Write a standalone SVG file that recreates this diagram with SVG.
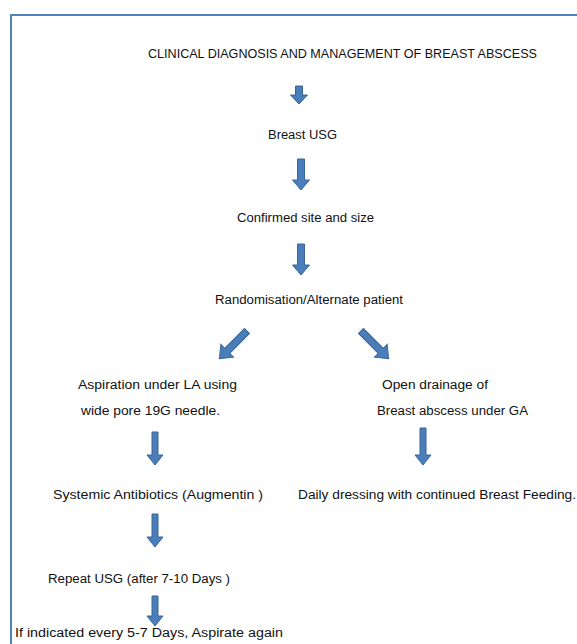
<svg xmlns="http://www.w3.org/2000/svg" xmlns:xlink="http://www.w3.org/1999/xlink" width="577" height="644" viewBox="0 0 577 644">
<style>
.t{font-family:"Liberation Sans",Arial,sans-serif;font-size:12px;fill:#111;}
.a{fill:#4a7ebb;stroke:#3a6596;stroke-width:1;stroke-linejoin:miter;}
</style>
<defs>
<linearGradient id="g" x1="0" y1="0" x2="1" y2="0">
<stop offset="0" stop-color="#3d6fae"/><stop offset="0.5" stop-color="#5a8fcf"/><stop offset="1" stop-color="#3d6fae"/>
</linearGradient>
<path id="diag" d="M-3.5,0 H3.5 V28 H9 L0,39 L-9,28 H-3.5 Z"/>
</defs>
<rect width="577" height="644" fill="#fff"/>
<rect x="11" y="15" width="620" height="700" fill="none" stroke="#4f81bd" stroke-width="2"/>
<g id="n-title"><text class="t" x="148" y="58" textLength="389" lengthAdjust="spacingAndGlyphs">CLINICAL DIAGNOSIS AND MANAGEMENT OF BREAST ABSCESS</text></g>
<g id="n-usg"><text class="t" x="268" y="139" textLength="69" lengthAdjust="spacingAndGlyphs">Breast USG</text></g>
<g id="n-confirmed"><text class="t" x="237" y="222" textLength="137" lengthAdjust="spacingAndGlyphs">Confirmed site and size</text></g>
<g id="n-random"><text class="t" x="215" y="304" textLength="188" lengthAdjust="spacingAndGlyphs">Randomisation/Alternate patient</text></g>
<g id="n-aspiration"><text class="t" x="78" y="389" textLength="159" lengthAdjust="spacingAndGlyphs">Aspiration under LA using</text><text class="t" x="81" y="415" textLength="139" lengthAdjust="spacingAndGlyphs">wide pore 19G needle.</text></g>
<g id="n-open"><text class="t" x="382" y="389" textLength="106" lengthAdjust="spacingAndGlyphs">Open drainage of</text><text class="t" x="377" y="415" textLength="151" lengthAdjust="spacingAndGlyphs">Breast abscess under GA</text></g>
<g id="n-antibiotics"><text class="t" x="53" y="499" textLength="210" lengthAdjust="spacingAndGlyphs">Systemic Antibiotics (Augmentin )</text></g>
<g id="n-dressing"><text class="t" x="298" y="499" textLength="278" lengthAdjust="spacingAndGlyphs">Daily dressing with continued Breast Feeding.</text></g>
<g id="n-repeat"><text class="t" x="48" y="583" textLength="182" lengthAdjust="spacingAndGlyphs">Repeat USG (after 7-10 Days )</text></g>
<g id="n-again"><text class="t" x="15" y="637" textLength="268" lengthAdjust="spacingAndGlyphs">If indicated every 5-7 Days, Aspirate again</text></g>
<g id="connectors">
<path class="a" d="M295.5,86 H302.5 V95 H307.5 L299,104 L290.5,95 H295.5 Z"/>
<path class="a" d="M297.5,159 H304.5 V180 H309.5 L301,190 L292.5,180 H297.5 Z"/>
<path class="a" d="M297.5,244 H304.5 V265 H309.5 L301,275 L292.5,265 H297.5 Z"/>
<use class="a" xlink:href="#diag" transform="translate(247,331) rotate(45)"/>
<use class="a" xlink:href="#diag" transform="translate(361,331) rotate(-45)"/>
<path class="a" d="M152,432 H158 V455 H163 L155,465 L147,455 H152 Z"/>
<path class="a" d="M420,428 H426 V455 H431 L423,465 L415,455 H420 Z"/>
<path class="a" d="M152,514 H158 V537 H163 L155,547 L147,537 H152 Z"/>
<path class="a" d="M152,596 H158 V616 H163 L155,626 L147,616 H152 Z"/>
</g>
</svg>
